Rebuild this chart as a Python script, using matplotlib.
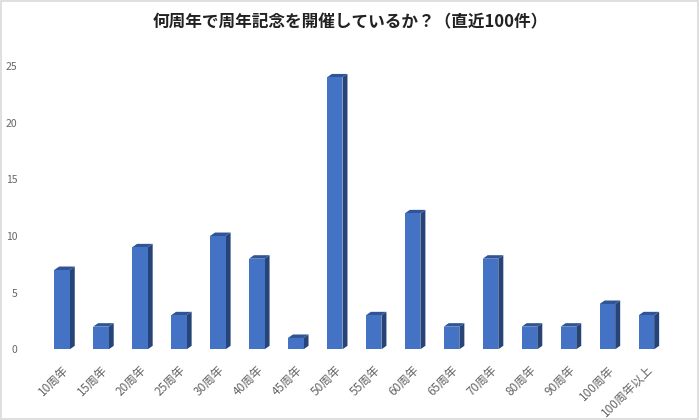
import matplotlib
matplotlib.use('Agg')
import matplotlib.pyplot as plt
from matplotlib.patches import Polygon, Rectangle
import numpy as np

plt.rcParams['font.family'] = ['Noto Sans CJK JP', 'DejaVu Sans']

# data
labels = ['10周年', '15周年', '20周年', '25周年', '30周年', '40周年', '45周年', '50周年',
          '55周年', '60周年', '65周年', '70周年', '80周年', '90周年', '100周年', '100周年以上']
counts = [7, 2, 9, 3, 10, 8, 1, 24, 3, 12, 2, 8, 2, 2, 4, 3]
yticks = [0, 5, 10, 15, 20, 25]

front = '#4472C4'
top_c = '#2F5597'
side_c = '#264478'

fig = plt.figure(figsize=(7, 4.2), dpi=100)
ax = fig.add_axes([0.0607, 0.1683, 0.8905, 0.6743])
x = np.arange(len(labels))
w = 0.40
ax.set_xlim(-0.5, len(labels) - 0.5)
ax.set_ylim(0, 25)

# depth of the fake 3D bars (5px right, 3.5px up)
ax_w = 0.8905 * 700
ax_h = 0.6743 * 420
dx = 5 / ax_w * len(labels)
dy = 3.5 / ax_h * 25

ax.bar(x, counts, width=w, color=front, zorder=3)
for xi, v in zip(x, counts):
    l, r = xi - w / 2, xi + w / 2
    ax.add_patch(Polygon([(r, 0), (r + dx, dy), (r + dx, v + dy), (r, v)],
                         closed=True, facecolor=side_c, edgecolor='none', zorder=2, clip_on=False))
    ax.add_patch(Polygon([(l, v), (l + dx, v + dy), (r + dx, v + dy), (r, v)],
                         closed=True, facecolor=top_c, edgecolor='none', zorder=2, clip_on=False))

ax.set_yticks(yticks)
ax.set_xticks(x)
ax.set_xticklabels(labels, rotation=45, ha='right', rotation_mode='anchor')
ax.tick_params(axis='both', length=0, colors='#666666')
ax.tick_params(axis='y', pad=18, labelsize=7.5)
ax.tick_params(axis='x', pad=10, labelsize=8.5)
for s in ax.spines.values():
    s.set_visible(False)

fig.text(0.5, 0.948, '何周年で周年記念を開催しているか？（直近100件）', ha='center', va='center',
         fontsize=12, fontweight='bold', color='#222222')

fig.patches.append(Rectangle((0.002, 0.003), 0.995, 0.994, transform=fig.transFigure,
                             fill=False, edgecolor='#D9D9D9', linewidth=1.2))

fig.savefig('out.png', dpi=100)
